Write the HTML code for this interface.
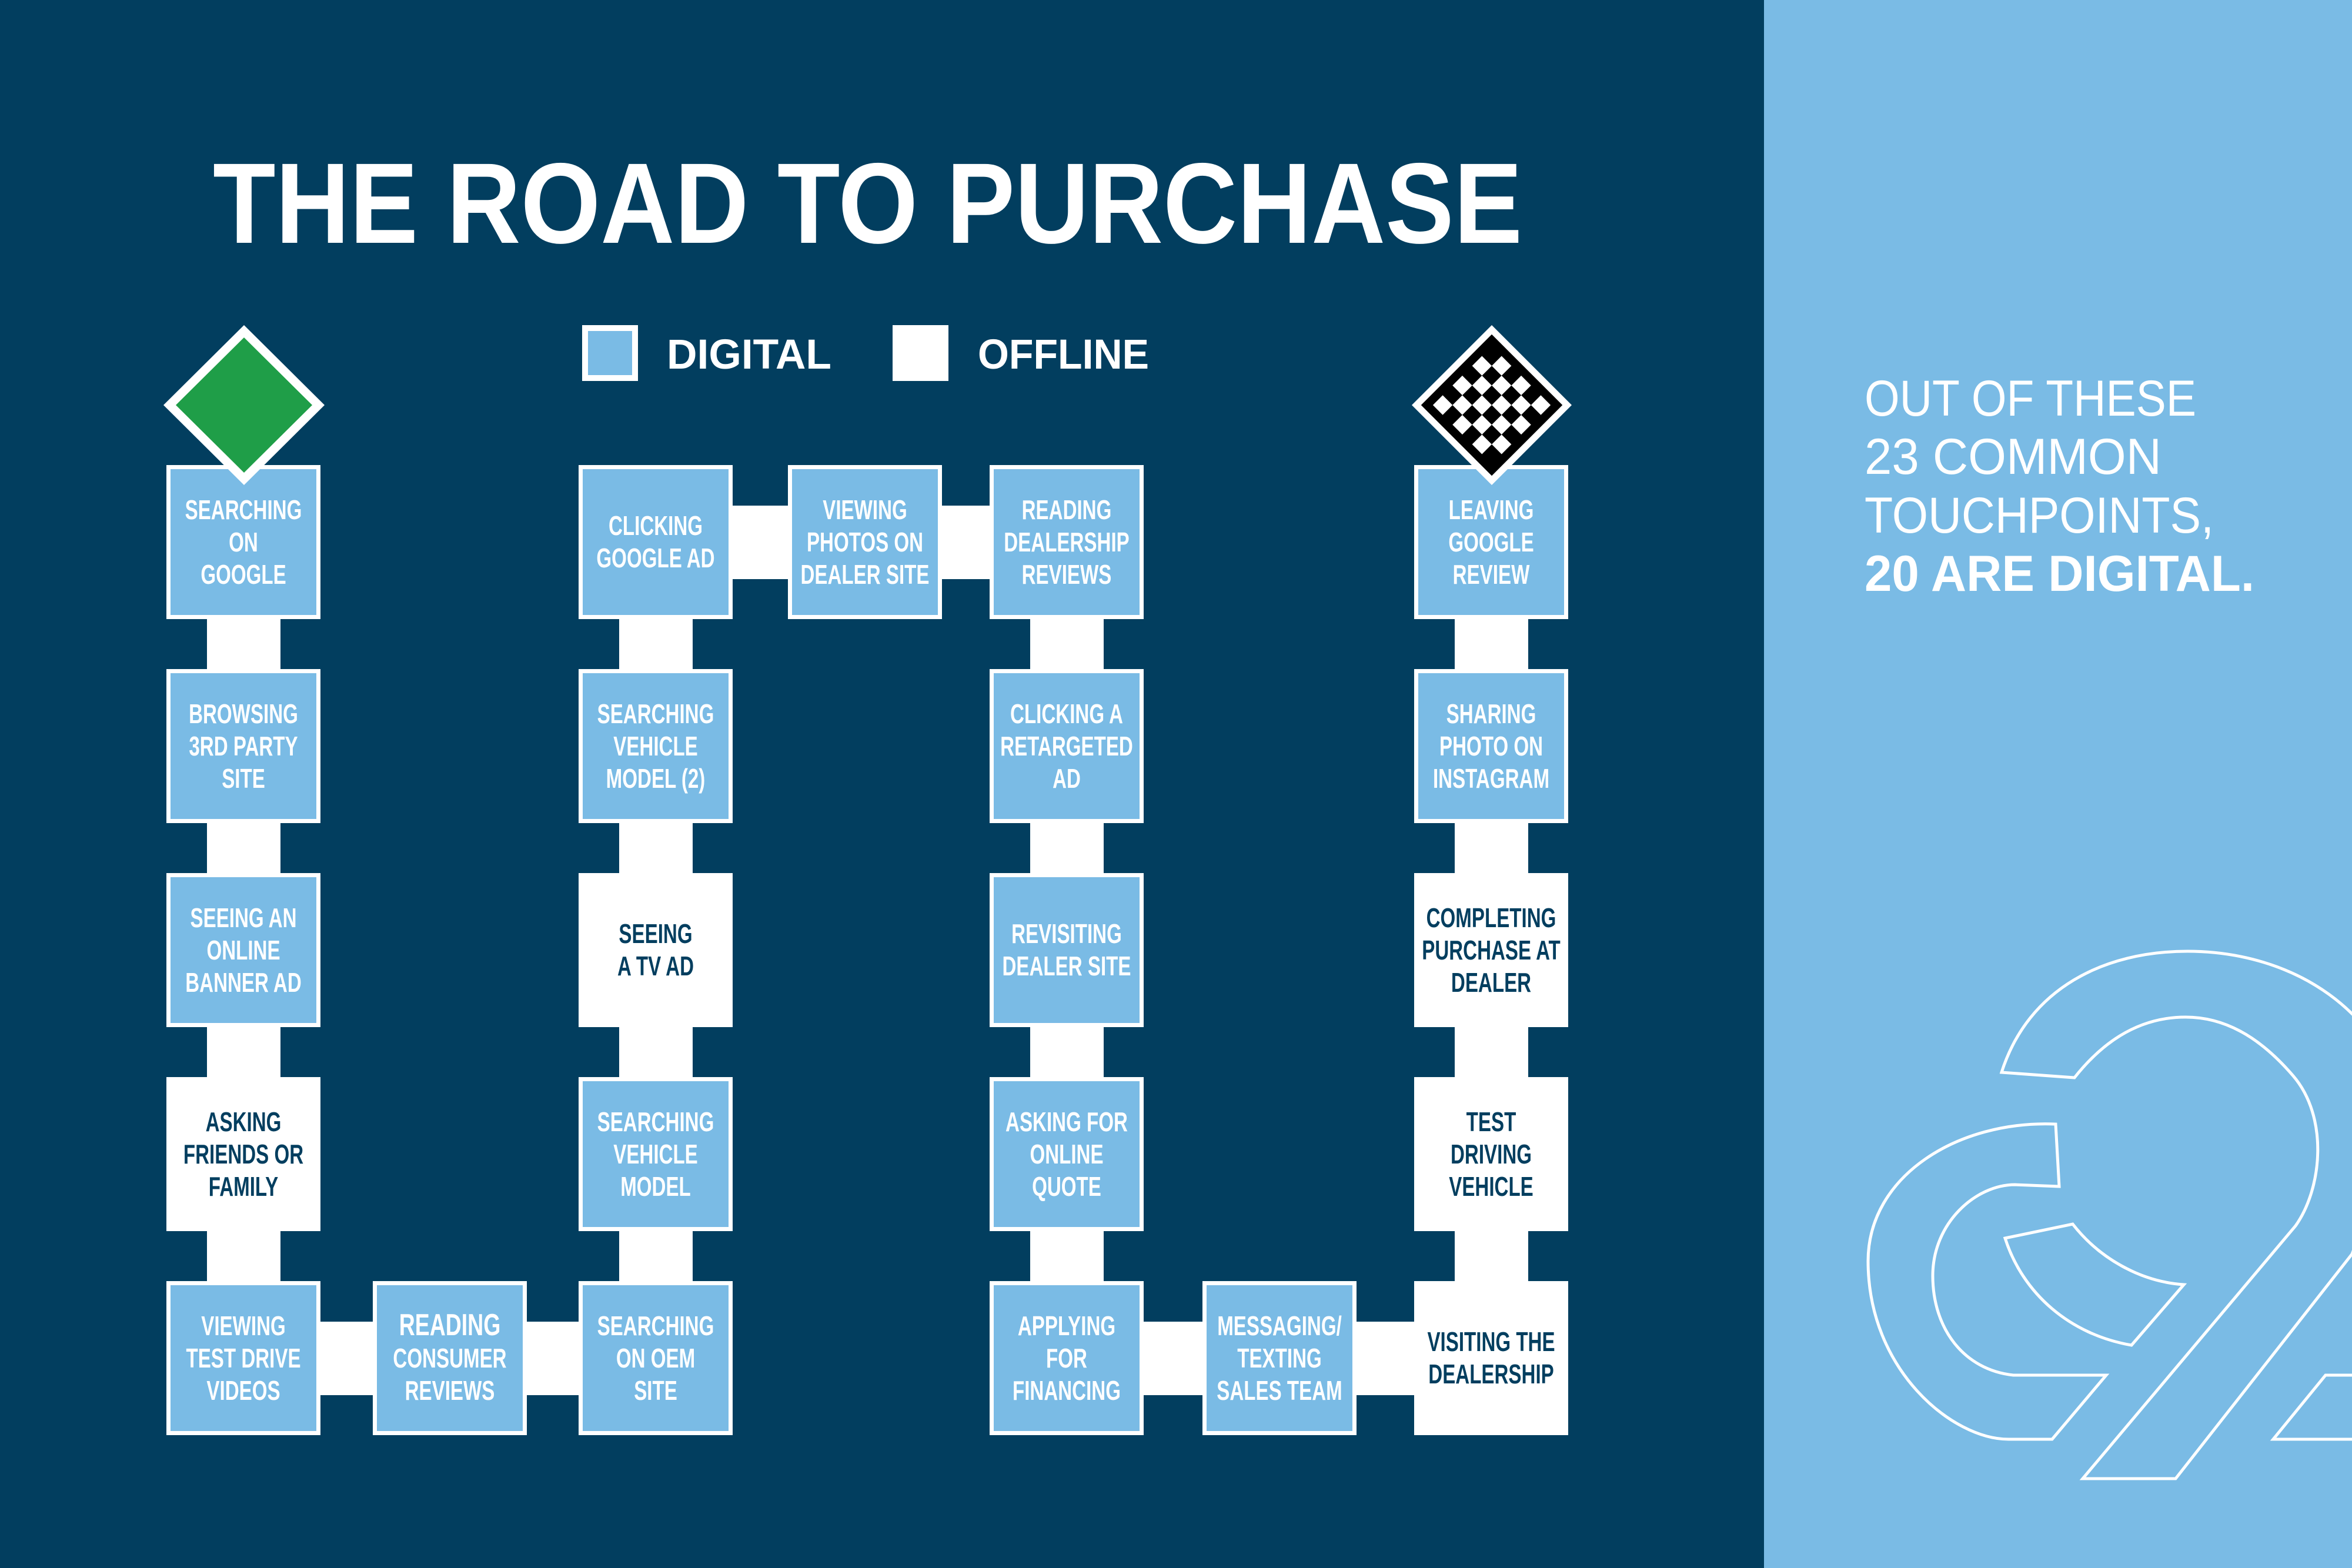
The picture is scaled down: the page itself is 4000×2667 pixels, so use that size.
<!DOCTYPE html>
<html><head><meta charset="utf-8"><style>
html,body{margin:0;padding:0;background:#023e5f;}
svg{display:block}
.bt{font-family:"Liberation Sans",sans-serif;font-weight:bold;font-size:46px;text-anchor:middle}
.d{fill:#ffffff}.o{fill:#023e5f}
</style></head><body>
<svg width="4000" height="2667" viewBox="0 0 4000 2667" xmlns="http://www.w3.org/2000/svg">
<rect x="0" y="0" width="3000" height="2667" fill="#023e5f"/>
<rect x="3000" y="0" width="1000" height="2667" fill="#7abbe5"/>

<text x="362" y="413" font-family="Liberation Sans,sans-serif" font-weight="bold" font-size="195" fill="#fff" textLength="2227" lengthAdjust="spacingAndGlyphs">THE ROAD TO PURCHASE</text>

<rect x="990" y="553" width="95" height="95" fill="#fff"/>
<rect x="1000" y="563" width="75" height="75" fill="#7abbe5"/>
<text x="1134" y="627" font-family="Liberation Sans,sans-serif" font-weight="bold" font-size="71" fill="#fff" textLength="280" lengthAdjust="spacingAndGlyphs">DIGITAL</text>
<rect x="1518" y="553" width="95" height="95" fill="#fff"/>
<text x="1663" y="627" font-family="Liberation Sans,sans-serif" font-weight="bold" font-size="71" fill="#fff" textLength="291" lengthAdjust="spacingAndGlyphs">OFFLINE</text>

<g fill="#fff">
<rect x="352" y="922" width="125" height="1388"/>
<rect x="1053" y="922" width="125" height="1388"/>
<rect x="1752" y="922" width="125" height="1388"/>
<rect x="2474" y="922" width="125" height="1388"/>
<rect x="414" y="2248" width="701" height="125"/>
<rect x="1814" y="2248" width="722" height="125"/>
<rect x="1115" y="860" width="699" height="125"/>
</g>

<g>
<rect x="283" y="791" width="262" height="262" fill="#fff"/><rect x="290" y="798" width="248" height="248" fill="#7abbe5"/>
<rect x="283" y="1138" width="262" height="262" fill="#fff"/><rect x="290" y="1145" width="248" height="248" fill="#7abbe5"/>
<rect x="283" y="1485" width="262" height="262" fill="#fff"/><rect x="290" y="1492" width="248" height="248" fill="#7abbe5"/>
<rect x="283" y="1832" width="262" height="262" fill="#fff"/>
<rect x="283" y="2179" width="262" height="262" fill="#fff"/><rect x="290" y="2186" width="248" height="248" fill="#7abbe5"/>
<rect x="634" y="2179" width="262" height="262" fill="#fff"/><rect x="641" y="2186" width="248" height="248" fill="#7abbe5"/>
<rect x="984" y="791" width="262" height="262" fill="#fff"/><rect x="991" y="798" width="248" height="248" fill="#7abbe5"/>
<rect x="984" y="1138" width="262" height="262" fill="#fff"/><rect x="991" y="1145" width="248" height="248" fill="#7abbe5"/>
<rect x="984" y="1485" width="262" height="262" fill="#fff"/>
<rect x="984" y="1832" width="262" height="262" fill="#fff"/><rect x="991" y="1839" width="248" height="248" fill="#7abbe5"/>
<rect x="984" y="2179" width="262" height="262" fill="#fff"/><rect x="991" y="2186" width="248" height="248" fill="#7abbe5"/>
<rect x="1340" y="791" width="262" height="262" fill="#fff"/><rect x="1347" y="798" width="248" height="248" fill="#7abbe5"/>
<rect x="1683" y="791" width="262" height="262" fill="#fff"/><rect x="1690" y="798" width="248" height="248" fill="#7abbe5"/>
<rect x="1683" y="1138" width="262" height="262" fill="#fff"/><rect x="1690" y="1145" width="248" height="248" fill="#7abbe5"/>
<rect x="1683" y="1485" width="262" height="262" fill="#fff"/><rect x="1690" y="1492" width="248" height="248" fill="#7abbe5"/>
<rect x="1683" y="1832" width="262" height="262" fill="#fff"/><rect x="1690" y="1839" width="248" height="248" fill="#7abbe5"/>
<rect x="1683" y="2179" width="262" height="262" fill="#fff"/><rect x="1690" y="2186" width="248" height="248" fill="#7abbe5"/>
<rect x="2045" y="2179" width="262" height="262" fill="#fff"/><rect x="2052" y="2186" width="248" height="248" fill="#7abbe5"/>
<rect x="2405" y="791" width="262" height="262" fill="#fff"/><rect x="2412" y="798" width="248" height="248" fill="#7abbe5"/>
<rect x="2405" y="1138" width="262" height="262" fill="#fff"/><rect x="2412" y="1145" width="248" height="248" fill="#7abbe5"/>
<rect x="2405" y="1485" width="262" height="262" fill="#fff"/>
<rect x="2405" y="1832" width="262" height="262" fill="#fff"/>
<rect x="2405" y="2179" width="262" height="262" fill="#fff"/>
</g>

<g transform="translate(414,922) scale(0.72,1)"><text class="bt d"><tspan x="0" y="-39">SEARCHING</tspan><tspan x="0" y="16">ON</tspan><tspan x="0" y="71">GOOGLE</tspan></text></g>
<g transform="translate(414,1269) scale(0.72,1)"><text class="bt d"><tspan x="0" y="-39">BROWSING</tspan><tspan x="0" y="16">3RD PARTY</tspan><tspan x="0" y="71">SITE</tspan></text></g>
<g transform="translate(414,1616) scale(0.72,1)"><text class="bt d"><tspan x="0" y="-39">SEEING AN</tspan><tspan x="0" y="16">ONLINE</tspan><tspan x="0" y="71">BANNER AD</tspan></text></g>
<g transform="translate(414,1963) scale(0.72,1)"><text class="bt o"><tspan x="0" y="-39">ASKING</tspan><tspan x="0" y="16">FRIENDS OR</tspan><tspan x="0" y="71">FAMILY</tspan></text></g>
<g transform="translate(414,2310) scale(0.72,1)"><text class="bt d"><tspan x="0" y="-39">VIEWING</tspan><tspan x="0" y="16">TEST DRIVE</tspan><tspan x="0" y="71">VIDEOS</tspan></text></g>

<g transform="translate(765,2310) scale(0.72,1)"><text class="bt d"><tspan x="0" y="-39" font-size="52">READING</tspan><tspan x="0" y="16">CONSUMER</tspan><tspan x="0" y="71">REVIEWS</tspan></text></g>

<g transform="translate(1115,922) scale(0.72,1)"><text class="bt d"><tspan x="0" y="-12">CLICKING</tspan><tspan x="0" y="43">GOOGLE AD</tspan></text></g>
<g transform="translate(1115,1269) scale(0.72,1)"><text class="bt d"><tspan x="0" y="-39">SEARCHING</tspan><tspan x="0" y="16">VEHICLE</tspan><tspan x="0" y="71">MODEL (2)</tspan></text></g>
<g transform="translate(1115,1616) scale(0.72,1)"><text class="bt o"><tspan x="0" y="-12">SEEING</tspan><tspan x="0" y="43">A TV AD</tspan></text></g>
<g transform="translate(1115,1963) scale(0.72,1)"><text class="bt d"><tspan x="0" y="-39">SEARCHING</tspan><tspan x="0" y="16">VEHICLE</tspan><tspan x="0" y="71">MODEL</tspan></text></g>
<g transform="translate(1115,2310) scale(0.72,1)"><text class="bt d"><tspan x="0" y="-39">SEARCHING</tspan><tspan x="0" y="16">ON OEM</tspan><tspan x="0" y="71">SITE</tspan></text></g>

<g transform="translate(1471,922) scale(0.72,1)"><text class="bt d"><tspan x="0" y="-39">VIEWING</tspan><tspan x="0" y="16">PHOTOS ON</tspan><tspan x="0" y="71">DEALER SITE</tspan></text></g>

<g transform="translate(1814,922) scale(0.72,1)"><text class="bt d"><tspan x="0" y="-39">READING</tspan><tspan x="0" y="16">DEALERSHIP</tspan><tspan x="0" y="71">REVIEWS</tspan></text></g>
<g transform="translate(1814,1269) scale(0.72,1)"><text class="bt d"><tspan x="0" y="-39">CLICKING A</tspan><tspan x="0" y="16">RETARGETED</tspan><tspan x="0" y="71">AD</tspan></text></g>
<g transform="translate(1814,1616) scale(0.72,1)"><text class="bt d"><tspan x="0" y="-12">REVISITING</tspan><tspan x="0" y="43">DEALER SITE</tspan></text></g>
<g transform="translate(1814,1963) scale(0.72,1)"><text class="bt d"><tspan x="0" y="-39">ASKING FOR</tspan><tspan x="0" y="16">ONLINE</tspan><tspan x="0" y="71">QUOTE</tspan></text></g>
<g transform="translate(1814,2310) scale(0.72,1)"><text class="bt d"><tspan x="0" y="-39">APPLYING</tspan><tspan x="0" y="16">FOR</tspan><tspan x="0" y="71">FINANCING</tspan></text></g>

<g transform="translate(2176,2310) scale(0.72,1)"><text class="bt d"><tspan x="0" y="-39">MESSAGING/</tspan><tspan x="0" y="16">TEXTING</tspan><tspan x="0" y="71">SALES TEAM</tspan></text></g>

<g transform="translate(2536,922) scale(0.72,1)"><text class="bt d"><tspan x="0" y="-39">LEAVING</tspan><tspan x="0" y="16">GOOGLE</tspan><tspan x="0" y="71">REVIEW</tspan></text></g>
<g transform="translate(2536,1269) scale(0.72,1)"><text class="bt d"><tspan x="0" y="-39">SHARING</tspan><tspan x="0" y="16">PHOTO ON</tspan><tspan x="0" y="71">INSTAGRAM</tspan></text></g>
<g transform="translate(2536,1616) scale(0.72,1)"><text class="bt o"><tspan x="0" y="-39">COMPLETING</tspan><tspan x="0" y="16">PURCHASE AT</tspan><tspan x="0" y="71">DEALER</tspan></text></g>
<g transform="translate(2536,1963) scale(0.72,1)"><text class="bt o"><tspan x="0" y="-39">TEST</tspan><tspan x="0" y="16">DRIVING</tspan><tspan x="0" y="71">VEHICLE</tspan></text></g>
<g transform="translate(2536,2310) scale(0.72,1)"><text class="bt o"><tspan x="0" y="-12">VISITING THE</tspan><tspan x="0" y="43">DEALERSHIP</tspan></text></g>

<polygon points="415,553 552,689 415,825 278,689" fill="#fff"/>
<polygon points="415,574 531,689 415,804 299,689" fill="#1f9e48"/>

<polygon points="2537,553 2673,689 2537,825 2401,689" fill="#fff"/>
<g transform="translate(2537,689) rotate(45)">
<rect x="-85" y="-85" width="170" height="170" fill="#000"/>
<g fill="#fff">
<rect x="-47.2" y="-70.8" width="23.6" height="23.6"/><rect x="0" y="-70.8" width="23.6" height="23.6"/><rect x="47.2" y="-70.8" width="23.6" height="23.6"/>
<rect x="-70.8" y="-47.2" width="23.6" height="23.6"/><rect x="-23.6" y="-47.2" width="23.6" height="23.6"/><rect x="23.6" y="-47.2" width="23.6" height="23.6"/>
<rect x="-47.2" y="-23.6" width="23.6" height="23.6"/><rect x="0" y="-23.6" width="23.6" height="23.6"/><rect x="47.2" y="-23.6" width="23.6" height="23.6"/>
<rect x="-70.8" y="0" width="23.6" height="23.6"/><rect x="-23.6" y="0" width="23.6" height="23.6"/><rect x="23.6" y="0" width="23.6" height="23.6"/>
<rect x="-47.2" y="23.6" width="23.6" height="23.6"/><rect x="0" y="23.6" width="23.6" height="23.6"/><rect x="47.2" y="23.6" width="23.6" height="23.6"/>
<rect x="-70.8" y="47.2" width="23.6" height="23.6"/><rect x="-23.6" y="47.2" width="23.6" height="23.6"/><rect x="23.6" y="47.2" width="23.6" height="23.6"/>
</g>
</g>

<g font-family="Liberation Sans,sans-serif" font-size="86" fill="#fff">
<text x="3171" y="707" textLength="564" lengthAdjust="spacingAndGlyphs">OUT OF THESE</text>
<text x="3171" y="806" textLength="505" lengthAdjust="spacingAndGlyphs">23 COMMON</text>
<text x="3171" y="906" textLength="594" lengthAdjust="spacingAndGlyphs">TOUCHPOINTS,</text>
<text x="3171" y="1005" font-weight="bold" textLength="663" lengthAdjust="spacingAndGlyphs">20 ARE DIGITAL.</text>
</g>

<g fill="none" stroke="#fff" stroke-width="5">
<path d="M3404,1824 C3450,1680 3580,1618 3720,1618 C3900,1618 4060,1720 4090,1900 L4000,2133 L3700,2515 L3542,2515 L3904,2085 C3950,2020 3960,1900 3900,1830 C3840,1760 3780,1730 3717,1730 C3630,1730 3570,1780 3528,1833 Z"/>
<path d="M3496,1912 C3330,1905 3177,2000 3177,2145 C3177,2330 3320,2448 3416,2448 L3490,2448 L3582,2339 L3424,2339 C3340,2330 3287,2260 3287,2170 C3287,2080 3360,2015 3427,2015 L3502,2018 Z"/>
<path d="M3410,2106 L3525,2082 C3570,2140 3640,2180 3714,2185 L3625,2288 C3520,2270 3440,2200 3410,2106 Z"/>
<path d="M4010,2339 L3955,2339 L3866,2448 L4010,2448"/>
</g>
</svg>
</body></html>
